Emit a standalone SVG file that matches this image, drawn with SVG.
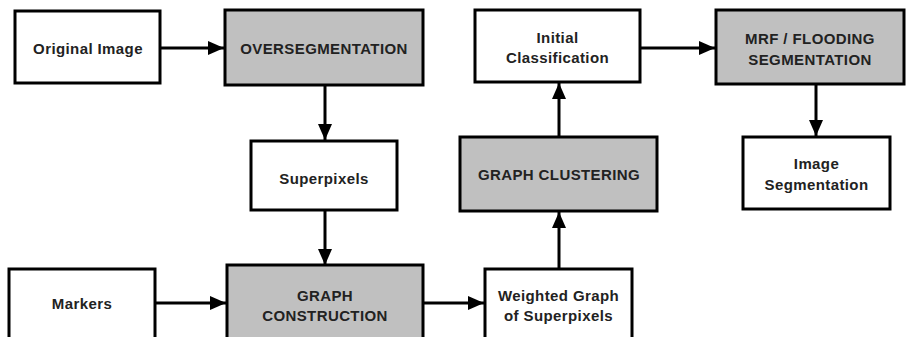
<svg xmlns="http://www.w3.org/2000/svg" width="906" height="337" viewBox="0 0 906 337">
<defs>
<style>
.box{fill:#fff;stroke:#000;stroke-width:3}
.proc{fill:#c0c0c0;stroke:#000;stroke-width:3}
.t{font-family:"Liberation Sans",Arial,sans-serif;font-size:15px;font-weight:bold;letter-spacing:0.4px;fill:#222;text-anchor:middle;dominant-baseline:central}
.c{stroke:#000;stroke-width:3;fill:none}
</style>
<marker id="ah" viewBox="0 0 16 14" refX="16" refY="7" markerWidth="16" markerHeight="14" markerUnits="userSpaceOnUse" orient="auto">
<path d="M0,0 L16,7 L0,14 Z" fill="#000"/>
</marker>
</defs>
<rect width="906" height="337" fill="#fff"/>
<g id="connectors">
<line class="c" x1="160" y1="48" x2="224" y2="48" marker-end="url(#ah)"/>
<line class="c" x1="325" y1="86" x2="325" y2="140" marker-end="url(#ah)"/>
<line class="c" x1="325" y1="211" x2="325" y2="265" marker-end="url(#ah)"/>
<line class="c" x1="155" y1="303" x2="226" y2="303" marker-end="url(#ah)"/>
<line class="c" x1="424" y1="303" x2="484" y2="303" marker-end="url(#ah)"/>
<line class="c" x1="559" y1="269" x2="559" y2="212" marker-end="url(#ah)"/>
<line class="c" x1="559" y1="137" x2="559" y2="83" marker-end="url(#ah)"/>
<line class="c" x1="640" y1="48" x2="715" y2="48" marker-end="url(#ah)"/>
<line class="c" x1="816" y1="85" x2="816" y2="136" marker-end="url(#ah)"/>
</g>
<g id="n-original">
<rect class="box" x="15" y="11" width="145" height="72"/>
<text class="t" x="88" y="48">Original Image</text>
</g>
<g id="n-overseg">
<rect class="proc" x="225" y="10" width="198" height="75"/>
<text class="t" x="324" y="48">OVERSEGMENTATION</text>
</g>
<g id="n-superpixels">
<rect class="box" x="251" y="141" width="146" height="69"/>
<text class="t" x="324" y="178">Superpixels</text>
</g>
<g id="n-markers">
<rect class="box" x="9" y="269" width="146" height="80"/>
<text class="t" x="82" y="303">Markers</text>
</g>
<g id="n-graphcons">
<rect class="proc" x="227" y="265" width="196" height="85"/>
<text class="t" x="325" y="295">GRAPH</text>
<text class="t" x="325" y="315">CONSTRUCTION</text>
</g>
<g id="n-weighted">
<rect class="box" x="485" y="269" width="147" height="80"/>
<text class="t" x="558.5" y="295">Weighted Graph</text>
<text class="t" x="558.5" y="315">of Superpixels</text>
</g>
<g id="n-clustering">
<rect class="proc" x="460" y="137" width="197" height="74"/>
<text class="t" x="559" y="174">GRAPH  CLUSTERING</text>
</g>
<g id="n-initial">
<rect class="box" x="475" y="10" width="165" height="72"/>
<text class="t" x="557.5" y="37">Initial</text>
<text class="t" x="557.5" y="57">Classification</text>
</g>
<g id="n-mrf">
<rect class="proc" x="716" y="10" width="188" height="74"/>
<text class="t" x="810" y="38">MRF / FLOODING</text>
<text class="t" x="810" y="59">SEGMENTATION</text>
</g>
<g id="n-imageseg">
<rect class="box" x="743" y="137" width="147" height="72"/>
<text class="t" x="816.5" y="163">Image</text>
<text class="t" x="816.5" y="184">Segmentation</text>
</g>
</svg>
